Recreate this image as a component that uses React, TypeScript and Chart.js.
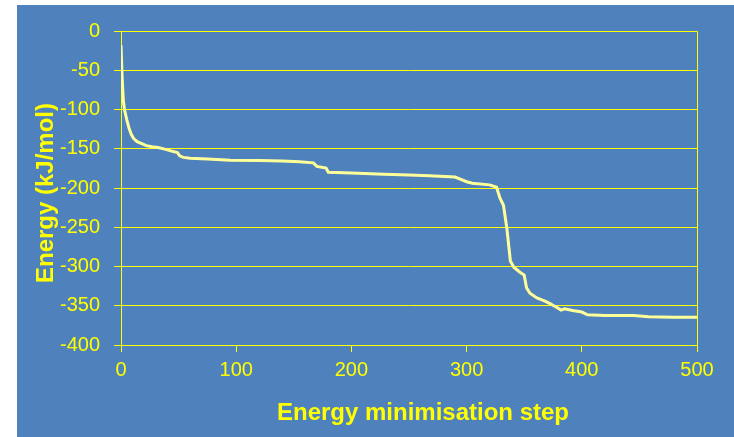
import React, { useEffect, useRef } from "react";
import { Chart, registerables } from "chart.js";

Chart.register(...registerables);

const steps: number[] = [0, 1, 2, 3, 5, 7, 9, 11, 14, 18, 22, 27, 32, 38, 44, 49, 51, 54, 60, 75, 95, 120, 140, 155, 167, 170, 178, 180, 200, 228, 250, 268, 290, 295, 300, 305, 320, 326, 329, 332, 335, 338, 341, 346, 350, 352, 355, 361, 368, 372, 378, 382, 385, 392, 400, 405, 420, 445, 458, 480, 500];
const energy: number[] = [-18, -60, -88, -100, -113, -124, -132, -137, -141, -143.5, -146, -147.5, -148.5, -150.5, -153, -155, -159, -161, -162, -163, -164.5, -165, -165.5, -166.5, -168, -172.5, -174.5, -180, -181, -182.5, -183.5, -184.5, -186, -189, -192, -194, -196, -199, -213, -222, -252, -293, -301, -307, -311, -327, -334, -340, -344, -347, -352, -355.5, -354, -356, -358, -361.5, -362.5, -362.5, -364, -364.5, -364.5];

const xTitle = "Energy minimisation step";
const yTitle = "Energy (kJ/mol)";

const YELLOW = "#ffff00";
const LINE = "#ffff99";
const BG = "#4f81bd";
const FONT = "'Liberation Sans', Arial, sans-serif";

const borderPlugin = {
  id: "plotBorder",
  beforeDatasetsDraw(chart: any) {
    const { ctx, chartArea } = chart;
    ctx.save();
    ctx.strokeStyle = YELLOW;
    ctx.lineWidth = 1;
    ctx.beginPath();
    const r = Math.round(chartArea.right) + 0.5;
    const t = Math.round(chartArea.top) + 0.5;
    ctx.moveTo(Math.round(chartArea.left), t);
    ctx.lineTo(r, t);
    ctx.lineTo(r, Math.round(chartArea.bottom) + 1);
    ctx.stroke();
    ctx.restore();
  },
};

const titlesPlugin = {
  id: "axisTitles",
  afterDraw(chart: any) {
    const { ctx, chartArea } = chart;
    ctx.save();
    ctx.fillStyle = YELLOW;
    ctx.font = `bold 24px ${FONT}`;
    ctx.textAlign = "center";
    ctx.textBaseline = "alphabetic";
    const cx = (chartArea.left + chartArea.right) / 2 + 14;
    ctx.fillText(xTitle, cx, chartArea.bottom + 75);
    const cy = (chartArea.top + chartArea.bottom) / 2 + 5;
    ctx.translate(36, cy);
    ctx.rotate(-Math.PI / 2);
    ctx.fillText(yTitle, 0, 0);
    ctx.restore();
  },
};

export default function App() {
  const ref = useRef<HTMLCanvasElement>(null);
  useEffect(() => {
    if (!ref.current) return;
    const data = steps.map((s, i) => ({ x: s, y: energy[i] }));
    const chart = new Chart(ref.current, {
      type: "line",
      data: {
        datasets: [
          {
            data,
            borderColor: LINE,
            borderWidth: 3,
            pointRadius: 0,
            tension: 0,
            fill: false,
          },
        ],
      },
      options: {
        animation: false,
        responsive: false,
        maintainAspectRatio: false,
        layout: { padding: { left: 0, top: 26, right: 37, bottom: 0 } },
        plugins: { legend: { display: false }, tooltip: { enabled: false } },
        scales: {
          x: {
            type: "linear",
            min: 0,
            max: 500,
            afterFit: (s: any) => {
              s.height = 92;
            },
            ticks: { stepSize: 100, color: YELLOW, font: { family: FONT, size: 20 }, padding: 6, maxRotation: 0 },
            grid: { display: true, drawOnChartArea: false, drawTicks: true, tickLength: 7, color: YELLOW },
            border: { display: true, color: YELLOW, width: 1 },
            title: { display: false },
          },
          y: {
            type: "linear",
            min: -400,
            max: 0,
            afterFit: (s: any) => {
              s.width = 104;
            },
            ticks: { stepSize: 50, color: YELLOW, font: { family: FONT, size: 20 }, padding: 14 },
            grid: { display: true, drawOnChartArea: true, drawTicks: true, tickLength: 7, color: YELLOW, lineWidth: 1 },
            border: { display: true, color: YELLOW, width: 1 },
            title: { display: false },
          },
        },
      },
      plugins: [borderPlugin, titlesPlugin],
    });
    return () => chart.destroy();
  }, []);
  return (
    <div style={{ position: "absolute", left: 17, top: 5, width: 717, height: 432, background: BG }}>
      <canvas ref={ref} width={717} height={432} style={{ display: "block", width: 717, height: 432 }} />
    </div>
  );
}
